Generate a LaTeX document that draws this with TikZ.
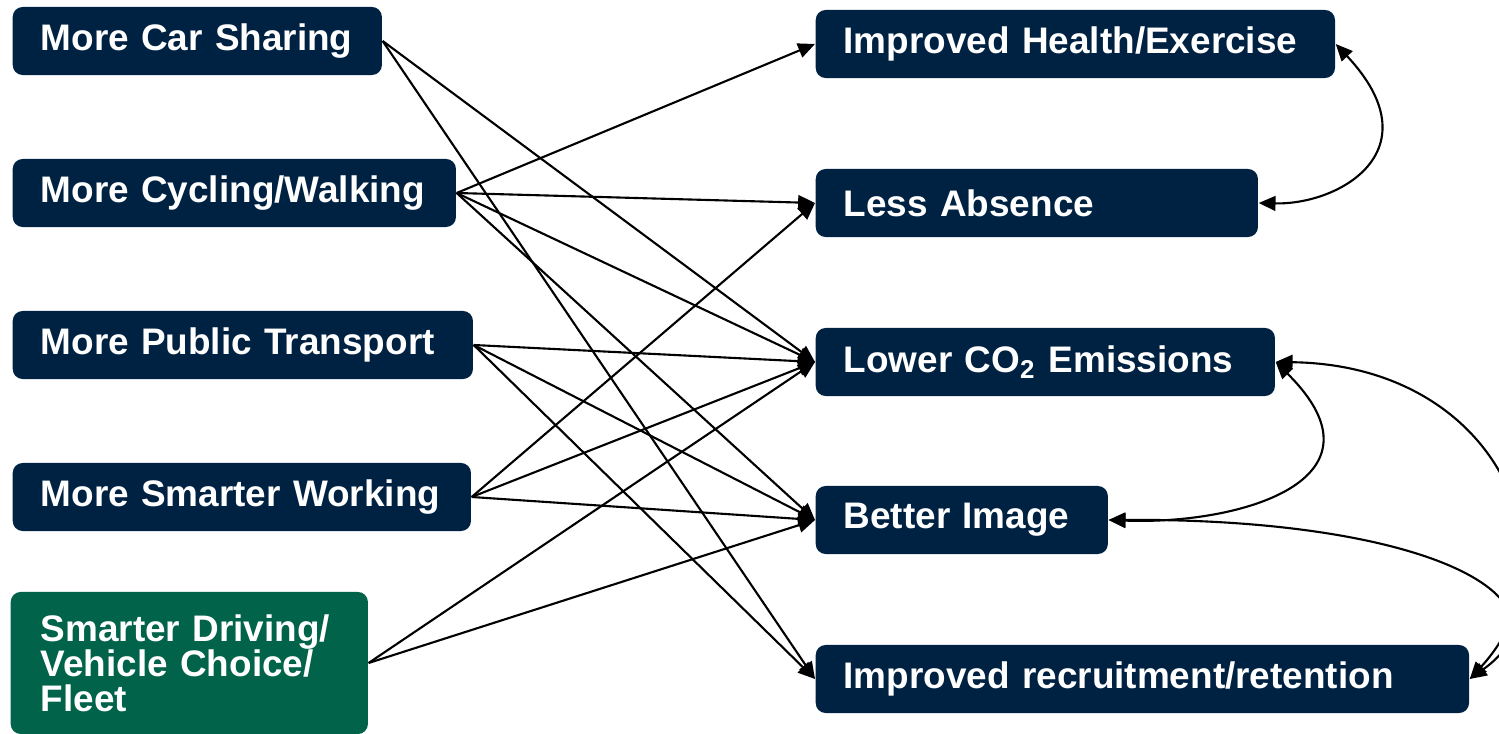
\documentclass[tikz,border=0pt]{standalone}
\usepackage{fontspec}
\setmainfont{Liberation Sans}
\usetikzlibrary{arrows.meta}
\definecolor{navy}{RGB}{0,34,66}
\definecolor{fleetgreen}{RGB}{0,99,74}
\tikzstyle{box} = [rectangle, rounded corners=1mm, anchor=west, minimum height=6.8mm, inner xsep=2.8mm, inner ysep=0pt, align=left, fill=navy, text=white, font=\bfseries\fontsize{10.5}{10}\selectfont]
\tikzstyle{arrow} = [line width=0.6pt,->,>={Triangle[length=4.8pt,width=4.2pt]}]
\tikzstyle{link} = [line width=0.6pt,<->,>={Triangle[length=4.8pt,width=4.2pt]}]

\begin{document}
\begin{tikzpicture}[x=0.01cm, y=0.01cm]
            \useasboundingbox (0,0) rectangle (1499,-734);
            \clip (0,0) rectangle (1499,-734);

            % travel measures
            \node (carshare)  [box, minimum width=3.69cm, text width=3.13cm] at (12,-41)  {More Car Sharing};
            \node (cycling)   [box, minimum width=4.43cm, text width=3.87cm] at (12,-193) {More Cycling/Walking};
            \node (transport) [box, minimum width=4.60cm, text width=4.04cm] at (12,-345) {More Public Transport};
            \node (working)   [box, minimum width=4.58cm, text width=4.02cm] at (12,-497) {More Smarter Working};
            \node (driving)   [box, fill=fleetgreen, inner xsep=3mm, minimum width=3.57cm, text width=2.97cm, minimum height=14.2mm] at (10,-663) {Smarter Driving/\\Vehicle Choice/\\Fleet};

            % benefits
            \node (health)    [box, minimum width=5.19cm, text width=4.63cm] at (815,-44)  {Improved Health/Exercise};
            \node (absence)   [box, minimum width=4.42cm, text width=3.86cm] at (815,-203) {Less Absence};
            \node (emissions) [box, minimum width=4.59cm, text width=4.03cm] at (815,-362) {Lower CO\textsubscript{2} Emissions};
            \node (image)     [box, minimum width=2.92cm, text width=2.36cm] at (815,-520) {Better Image};
            \node (recruit)   [box, minimum width=6.53cm, text width=5.97cm] at (815,-679) {Improved recruitment/retention};

            \draw [arrow] (carshare.east)  -- (emissions.west);
            \draw [arrow] (carshare.east)  -- (recruit.west);
            \draw [arrow] (cycling.east)   -- (health.west);
            \draw [arrow] (cycling.east)   -- (absence.west);
            \draw [arrow] (cycling.east)   -- (emissions.west);
            \draw [arrow] (cycling.east)   -- (image.west);
            \draw [arrow] (transport.east) -- (emissions.west);
            \draw [arrow] (transport.east) -- (image.west);
            \draw [arrow] (transport.east) -- (recruit.west);
            \draw [arrow] (working.east)   -- (absence.west);
            \draw [arrow] (working.east)   -- (emissions.west);
            \draw [arrow] (working.east)   -- (image.west);
            \draw [arrow] (driving.east)   -- (emissions.west);
            \draw [arrow] (driving.east)   -- (image.west);

            % links between benefits
            \draw [link] (health.east)    .. controls (1435,-150) and (1340,-205) .. (absence.east);
            \draw [link] (emissions.east) .. controls (1395,-480) and (1240,-525) .. (image.east);
            \draw [link] (emissions.east) .. controls (1500,-365) and (1580,-560) .. (recruit.east);
            \draw [link] (image.east)     .. controls (1430,-518) and (1580,-600) .. (recruit.east);
        \end{tikzpicture}
\end{document}
